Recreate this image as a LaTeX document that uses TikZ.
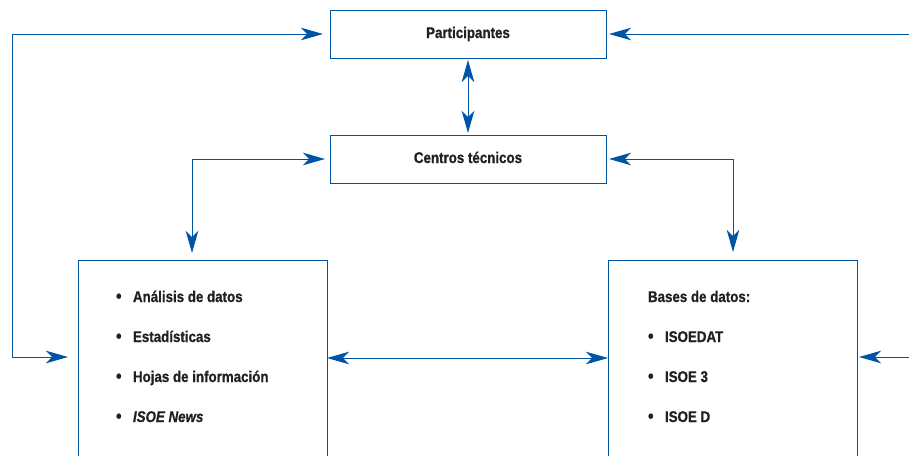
\documentclass[tikz,border=0pt]{standalone}
\usepackage{fontspec}
\setmainfont{Liberation Sans}[FakeStretch=0.86, BoldFeatures={FakeBold=0.8}, BoldItalicFeatures={FakeBold=0.8}]
\usetikzlibrary{arrows.meta}
\definecolor{lineblue}{RGB}{0,84,164}
\definecolor{txt}{RGB}{35,31,32}
\tikzset{
  box/.style={draw=lineblue, line width=1pt, fill=white, outer sep=0pt, inner sep=0pt,
    minimum width=276pt, minimum height=48pt, text height=11pt, text depth=3pt,
    font=\fontsize{15.5}{18}\selectfont\bfseries, text=txt},
  bigbox/.style={draw=lineblue, line width=1pt, outer sep=0pt, inner sep=0pt,
    minimum width=249pt, minimum height=230pt, anchor=north west},
  listtext/.style={anchor=base west, inner sep=0pt, outer sep=0pt,
    font=\fontsize{15.5}{18}\selectfont\bfseries, text=txt},
  conn/.style={draw=lineblue, line width=1pt,
    {Stealth[length=22pt,width=12.5pt,inset=6pt]}-{Stealth[length=22pt,width=12.5pt,inset=6pt]}}
}
\newcommand{\blt}{\makebox[17pt][l]{\raisebox{-0.3pt}{\scalebox{1.2}{\textbullet}}}}
\begin{document}
\begin{tikzpicture}[x=1pt,y=-1pt]
\clip (0,0) rectangle (909,455);
\fill[white] (0,0) rectangle (909,455);
% boxes
\node[box] (part) at (468,34) {Participantes};
\node[box] (cent) at (468,159) {Centros técnicos};
\node[bigbox] (left) at (78,260) {};
\node[bigbox] (right) at (608,260) {};
% left list
\node[listtext] (l1) at (116,302) {\blt Análisis de datos};
\node[listtext] (l2) at (116,342) {\blt Estadísticas};
\node[listtext] (l3) at (116,382) {\blt Hojas de información};
\node[listtext] (l4) at (116,422) {\blt\itshape ISOE News};
% right list
\node[listtext] (r0) at (648,302) {Bases de datos:};
\node[listtext] (r1) at (648,342) {\blt ISOEDAT};
\node[listtext] (r2) at (648,382) {\blt ISOE 3};
\node[listtext] (r3) at (648,422) {\blt ISOE D};
% connectors
\draw[conn, shorten <=10pt, shorten >=7pt]
  ([yshift=-97pt]left.north west) -| ([xshift=-318pt]part.west) -- (part.west);
\draw[conn, shorten <=2pt, shorten >=3pt]
  ([yshift=-97pt]right.north east) -| ([xshift=320pt]part.east) -- (part.east);
\draw[conn, shorten <=7pt, shorten >=5pt]
  ([xshift=114pt]left.north west) |- (cent.west);
\draw[conn, shorten <=8pt, shorten >=3pt]
  ([xshift=125pt]right.north west) |- (cent.east);
\draw[conn, shorten <=2pt, shorten >=2pt] (part.south) -- (cent.north);
\draw[conn] ([yshift=-98pt]left.north east) -- ([yshift=-98pt]right.north west);
\end{tikzpicture}
\end{document}
